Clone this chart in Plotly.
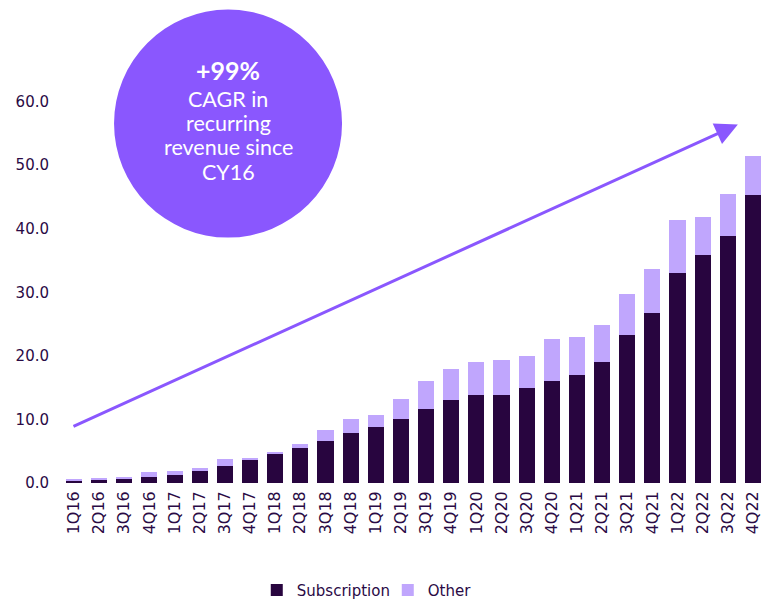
import plotly.graph_objects as go

quarters = ["1Q16", "2Q16", "3Q16", "4Q16", "1Q17", "2Q17", "3Q17", "4Q17",
            "1Q18", "2Q18", "3Q18", "4Q18", "1Q19", "2Q19", "3Q19", "4Q19",
            "1Q20", "2Q20", "3Q20", "4Q20", "1Q21", "2Q21", "3Q21", "4Q21",
            "1Q22", "2Q22", "3Q22", "4Q22"]
subscription = [0.4, 0.6, 0.7, 1.0, 1.3, 1.9, 2.6, 3.7,
                4.6, 5.5, 6.6, 7.9, 8.8, 10.1, 11.6, 13.0,
                13.9, 13.9, 14.9, 16.1, 17.0, 19.0, 23.3, 26.7,
                33.0, 35.9, 38.8, 45.3]
other = [0.1, 0.1, 0.1, 0.7, 0.6, 0.5, 1.2, 0.2,
         0.3, 0.6, 1.7, 2.2, 1.9, 3.1, 4.5, 5.0,
         5.1, 5.5, 5.1, 6.5, 5.9, 5.8, 6.5, 7.0,
         8.3, 6.0, 6.6, 6.2]
y_ticks = [0, 10, 20, 30, 40, 50, 60]
bubble_headline = "+99%"
bubble_lines = ["CAGR in", "recurring", "revenue since", "CY16"]

DARK = "#28053f"
LIGHT = "#c0a6fd"
PURPLE = "#8a57fe"
TEXT = "#2a0a45"
FONT = "DejaVu Sans"

fig = go.Figure()
fig.add_trace(go.Bar(x=quarters, y=subscription, name="Subscription",
                     marker=dict(color=DARK, line=dict(width=0))))
fig.add_trace(go.Bar(x=quarters, y=other, name="Other",
                     marker=dict(color=LIGHT, line=dict(width=0))))

# Growth arrow across the bars
fig.add_annotation(x=26.4, y=56.4, ax=-0.08, ay=8.8,
                   xref="x", yref="y", axref="x", ayref="y",
                   text="", showarrow=True, arrowhead=2, arrowsize=1.5,
                   arrowwidth=3, arrowcolor=PURPLE)

# CAGR bubble
cx, cy = 0.2497, 0.8077
fig.add_shape(type="circle", xref="paper", yref="paper",
              xsizemode="pixel", ysizemode="pixel",
              xanchor=cx, yanchor=cy, x0=-114, x1=114, y0=-114, y1=114,
              fillcolor=PURPLE, line=dict(width=0), layer="above")
fig.add_annotation(x=cx, y=cy, xref="paper", yref="paper",
                   xanchor="center", yanchor="middle", yshift=54,
                   text=f"<b>{bubble_headline}</b>", showarrow=False,
                   font=dict(family="Lato", size=25, color="white"))
for i, line in enumerate(bubble_lines):
    fig.add_annotation(x=cx, y=cy, xref="paper", yref="paper",
                       xanchor="center", yanchor="middle",
                       yshift=25 - 24.4 * i, text=line, showarrow=False,
                       font=dict(family="Lato", size=21.5, color="white"))

fig.update_layout(
    barmode="stack",
    bargap=0.36,
    width=763, height=601,
    margin=dict(l=50, r=0, t=38, b=118, autoexpand=False),
    paper_bgcolor="white", plot_bgcolor="white",
    font=dict(family=FONT, size=15, color=TEXT),
    showlegend=True,
    legend=dict(orientation="h", x=0.29, xanchor="left", y=-0.241,
                yanchor="middle", font=dict(family=FONT, size=15, color=TEXT),
                traceorder="normal", itemwidth=30,
                entrywidth=86, entrywidthmode="pixels"),
    xaxis=dict(type="category", range=[-0.954, 27.4], tickangle=-90,
               showgrid=False, showline=False, ticks="", automargin=False,
               ticklabelstandoff=4,
               tickfont=dict(family=FONT, size=16, color=TEXT)),
    yaxis=dict(range=[0, 70], tickvals=y_ticks, automargin=False,
               ticktext=[f"{v:.1f}" for v in y_ticks],
               showgrid=False, zeroline=False, showline=False, ticks="",
               tickfont=dict(family=FONT, size=15, color=TEXT)),
)

fig.write_html("out.html")
